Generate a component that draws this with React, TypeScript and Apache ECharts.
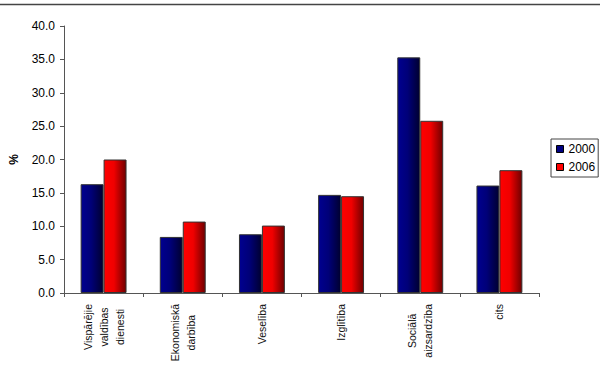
import React, { useEffect, useRef } from "react";
import * as echarts from "echarts";

const categories: string[][] = [
  ["Vispārējie", "valdības", "dienesti"],
  ["Ekonomiskā", "darbība"],
  ["Veselība"],
  ["Izglītība"],
  ["Sociālā", "aizsardzība"],
  ["cits"],
];
const years = ["2000", "2006"];
const values2000 = [16.3, 8.4, 8.8, 14.7, 35.3, 16.1];
const values2006 = [20.0, 10.7, 10.1, 14.5, 25.8, 18.4];
const yTicks = { min: 0, max: 40, interval: 5 };

const FONT = "'Liberation Sans', Arial, sans-serif";

function grad(c1: string, c2: string, c3: string) {
  return new echarts.graphic.LinearGradient(0, 0, 1, 0, [
    { offset: 0, color: c1 },
    { offset: 0.45, color: c2 },
    { offset: 1, color: c3 },
  ]);
}

export default function App() {
  const ref = useRef<HTMLDivElement>(null);
  useEffect(() => {
    if (!ref.current) return;
    const chart = echarts.init(ref.current, null, { renderer: "svg" });
    chart.setOption({
      animation: false,
      backgroundColor: "#ffffff",
      graphic: [
        {
          type: "line",
          shape: { x1: 0, y1: 4.5, x2: 600, y2: 4.5 },
          style: { stroke: "#444", lineWidth: 1.5 },
        },
      ],
      grid: { left: 60, right: 61, top: 26, bottom: 88 },
      legend: {
        orient: "vertical",
        left: 551,
        top: 139,
        borderColor: "#444",
        borderWidth: 1,
        padding: [4, 3, 4, 5],
        itemGap: 6,
        itemWidth: 7,
        itemHeight: 7,
        icon: "rect",
        textStyle: { fontFamily: FONT, fontSize: 12, color: "#000" },
        data: [
          { name: years[0], itemStyle: { color: "#000080", borderColor: "#000", borderWidth: 1 } },
          { name: years[1], itemStyle: { color: "#ff0000", borderColor: "#000", borderWidth: 1 } },
        ],
      },
      xAxis: {
        type: "category",
        data: categories.map((c) => c.join("\n")),
        axisLine: { lineStyle: { color: "#555" } },
        axisTick: { show: true, alignWithLabel: false, length: 4, lineStyle: { color: "#555" } },
        axisLabel: {
          interval: 0,
          rotate: 90,
          margin: 11,
          fontFamily: FONT,
          fontSize: 10.5,
          color: "#111",
          lineHeight: 16,
          formatter: (v: string) =>
            v
              .split("\n")
              .map((l) => "{c|" + l + "}")
              .join("\n"),
          rich: {
            c: { align: "center", fontFamily: FONT, fontSize: 10.5, color: "#111", lineHeight: 16 },
          },
        },
      },
      yAxis: {
        type: "value",
        min: yTicks.min,
        max: yTicks.max,
        interval: yTicks.interval,
        name: "%",
        nameLocation: "middle",
        nameGap: 44,
        nameRotate: 90,
        nameTextStyle: { fontFamily: FONT, fontSize: 12, fontWeight: "bold", color: "#000" },
        axisLine: { show: true, lineStyle: { color: "#555" } },
        axisTick: { show: true, length: 4, lineStyle: { color: "#555" } },
        splitLine: { show: false },
        axisLabel: {
          fontFamily: FONT,
          fontSize: 12,
          color: "#000",
          margin: 9,
          formatter: (v: number) => v.toFixed(1),
        },
      },
      series: [
        {
          name: years[0],
          type: "bar",
          data: values2000,
          barGap: "0%",
          barCategoryGap: "42%",
          itemStyle: {
            color: grad("#000090", "#000078", "#000030"),
            borderColor: "#333",
            borderWidth: 1,
          },
        },
        {
          name: years[1],
          type: "bar",
          data: values2006,
          barGap: "0%",
          barCategoryGap: "42%",
          itemStyle: {
            color: grad("#ff0000", "#f00000", "#700000"),
            borderColor: "#333",
            borderWidth: 1,
          },
        },
      ],
    });
    return () => chart.dispose();
  }, []);
  return (
    <div
      ref={ref}
      style={{ position: "fixed", left: 0, top: 0, width: 600, height: 381 }}
    />
  );
}
